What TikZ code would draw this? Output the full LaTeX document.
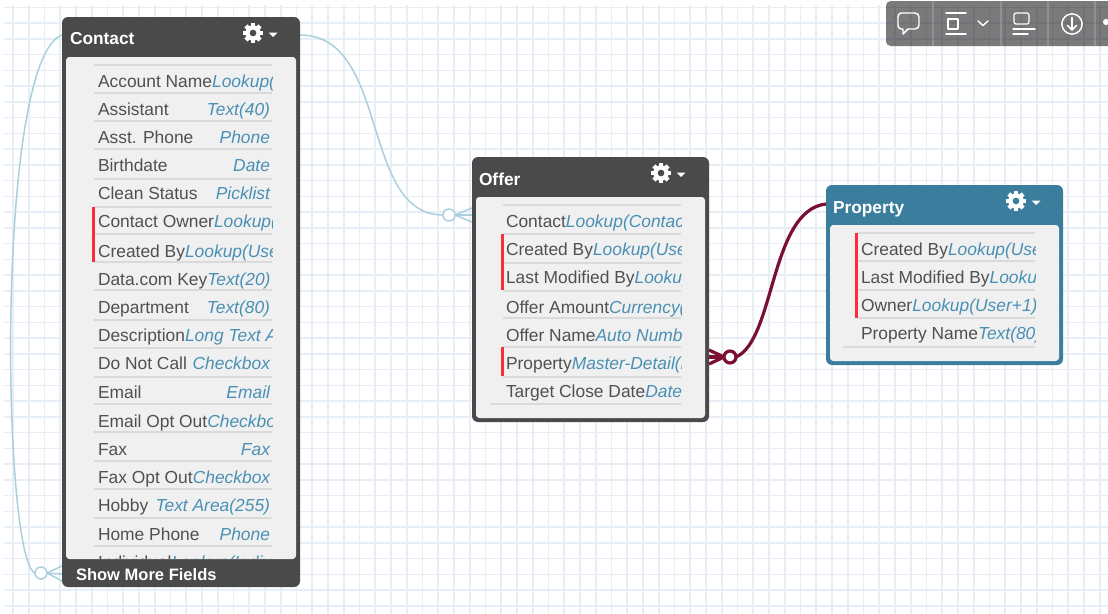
\documentclass[tikz,border=0pt]{standalone}
\usepackage{fontspec}
\setmainfont{Liberation Sans}
\definecolor{gridc}{HTML}{E8EEF5}
\definecolor{darkhdr}{HTML}{4A4A4A}
\definecolor{bluehdr}{HTML}{3A7D9C}
\definecolor{bodyc}{HTML}{F0F0F0}
\definecolor{labelc}{HTML}{505050}
\definecolor{typec}{HTML}{4A90B4}
\definecolor{rulec}{HTML}{DADADA}
\definecolor{redbar}{HTML}{FA2D3A}
\definecolor{lightlink}{HTML}{A9CFDC}
\definecolor{darklink}{HTML}{7A0F33}
\tikzset{
  shell/.style={inner sep=0pt,outer sep=0pt,rounded corners=4.5pt},
  flabel/.style={inner sep=0pt,outer sep=0pt,text=labelc,font=\fontsize{13.05}{14}\selectfont},
  ftype/.style={inner sep=0pt,outer sep=0pt,text=typec,font=\fontsize{13.05}{14}\selectfont\itshape},
  htitle/.style={inner sep=0pt,outer sep=0pt,text=white,anchor=base west,font=\fontsize{13}{14}\selectfont\bfseries},
  lightline/.style={draw=lightlink,line width=1.1pt},
  darkline/.style={draw=darklink,line width=2.4pt},
  hollow/.style={circle,fill=white,inner sep=0pt,outer sep=0pt,minimum size=9pt},
  tool/.style={draw=white,line width=1.1pt,line cap=round,line join=round},
}
% id x1 y1 x2 y2 header-bottom colour body-bottom
\newcommand{\entitybox}[8]{%
  \node[shell,fill=#7,minimum width={(#4-#2)*0.75pt},minimum height={(#5-#3)*0.75pt}] (#1) at ({(#2+#4)/2},{(#3+#5)/2}) {};
  \node[shell,rounded corners=2.5pt,fill=bodyc,minimum width={(#4-#2-8)*0.75pt},minimum height={(#8-#6)*0.75pt}] (#1body) at ({(#2+#4)/2},{(#6+#8)/2}) {};
}
% x y background
\newcommand{\gearicon}[3]{%
  \foreach \a in {0,45,...,315}{\fill[white,rotate around={\a:(#1,#2)}] (#1-2.2,#2-10) rectangle (#1+2.2,#2);}
  \fill[white] (#1,#2) circle (5.8pt);
  \fill[#3] (#1,#2) circle (2.5pt);
  \fill[white] (#1+15.5,#2-0.5) -- (#1+24.5,#2-0.5) -- (#1+20,#2+4) -- cycle;
}
% id x clip-right y label type  : type directly follows the label
\newcommand{\fieldflow}[6]{%
  \begin{scope}
  \clip (#2-3,#4-14) rectangle (#3,#4+14);
  \node[flabel,anchor=base west] (#1a) at (#2,#4+6.2) {#5};
  \node[ftype,anchor=base west] (#1b) at (#1a.base east) {#6};
  \end{scope}
}
% id x clip-right y label type  : type set flush right
\newcommand{\fieldright}[6]{%
  \begin{scope}
  \clip (#2-3,#4-14) rectangle (#3,#4+14);
  \node[flabel,anchor=base west] (#1a) at (#2,#4+6.2) {#5};
  \node[ftype,anchor=base east] (#1b) at (#3-2,#4+6.2) {#6};
  \end{scope}
}
\begin{document}
\begin{tikzpicture}[x=0.75pt,y=-0.75pt]
\useasboundingbox (0,0) rectangle (1108,614);
\fill[white] (0,0) rectangle (1108,614);
% grid
\foreach \k in {0,...,70}{\draw[gridc,line width=1.2pt] ({13+15.75*\k},5) -- ({13+15.75*\k},614);}
\foreach \k in {0,...,38}{\draw[gridc,line width=1.2pt] (4,{7.3+15.75*\k}) -- (1108,{7.3+15.75*\k});}

% named ends of the connectors
\coordinate (cright) at (300,35);
\coordinate (cleft) at (62,35);
\coordinate (cf1) at (62,566);
\coordinate (cf2) at (62,574);
\coordinate (cf3) at (62,581);
\coordinate (of1) at (472,208);
\coordinate (of2) at (472,215);
\coordinate (of3) at (472,222);
\coordinate (mf1) at (709,350);
\coordinate (mf2) at (709,357);
\coordinate (mf3) at (709,364);
\coordinate (pleft) at (826,204);
\node[hollow,draw=lightlink,line width=1.1pt] (selfend) at (41,573) {};
\node[hollow,draw=lightlink,line width=1.1pt] (offerend) at (449,215) {};
\node[hollow,draw=darklink,line width=2.4pt] (propend) at (730,357) {};

% connectors
\draw[lightline] (cright) .. controls (390,35) and (360,215) .. (offerend.west);
\draw[lightline] (cleft) .. controls (-5,60) and (2,560) .. (selfend.west);
\foreach \e in {cf1,cf2,cf3}{\draw[lightline] (selfend.east) -- (\e);}
\foreach \e in {of1,of2,of3}{\draw[lightline] (offerend.east) -- (\e);}
\draw[darkline] (pleft) .. controls (770,210) and (775,340) .. (propend.east);
\foreach \e in {mf1,mf2,mf3}{\draw[darkline] (propend.west) -- (\e);}

% ---------- Contact
\entitybox{contact}{62}{17}{300}{587}{57}{darkhdr}{559}
\node[htitle] (contacttitle) at (70,45) {Contact};
\gearicon{253}{33}{darkhdr}
\node[inner sep=0pt,outer sep=0pt,text=white,anchor=base west,font=\fontsize{12.4}{14}\selectfont\bfseries] (contactmore) at (76,580) {Show More Fields};
\foreach \y in {65,93,121,149,179,207,234,262,290,320,348,377,404,432,461,489,518,546}{\draw[rulec,line width=.8pt] (94,\y) -- (272,\y);}
\fill[redbar] (92,207) rectangle (95,262);
\fieldflow{c1}{98}{272}{81}{Account Name}{Lookup(Account)}
\fieldright{c2}{98}{272}{109}{Assistant}{Text(40)}
\fieldright{c3}{98}{272}{137}{Asst. Phone}{Phone}
\fieldright{c4}{98}{272}{165}{Birthdate}{Date}
\fieldright{c5}{98}{272}{193}{Clean Status}{Picklist}
\fieldflow{c6}{98}{272}{221}{Contact Owner}{Lookup(User)}
\fieldflow{c7}{98}{272}{251}{Created By}{Lookup(User)}
\fieldflow{c8}{98}{272}{279}{Data.com Key}{Text(20)}
\fieldright{c9}{98}{272}{307}{Department}{Text(80)}
\fieldflow{c10}{98}{272}{335}{Description}{Long Text Area}
\fieldright{c11}{98}{272}{363}{Do Not Call}{Checkbox}
\fieldright{c12}{98}{272}{392}{Email}{Email}
\fieldflow{c13}{98}{272}{421}{Email Opt Out}{Checkbox}
\fieldright{c14}{98}{272}{449}{Fax}{Fax}
\fieldflow{c15}{98}{272}{477}{Fax Opt Out}{Checkbox}
\fieldright{c16}{98}{272}{505}{Hobby}{Text Area(255)}
\fieldright{c17}{98}{272}{534}{Home Phone}{Phone}
\begin{scope}
\clip (90,546) rectangle (272,558.5);
\node[flabel,anchor=base west] (c18a) at (98,568.2) {Individual};
\node[ftype,anchor=base west] (c18b) at (c18a.base east) {Lookup(Indiv};
\end{scope}

% ---------- Offer
\entitybox{offer}{472}{157}{709}{422}{197}{darkhdr}{418}
\node[htitle] (offertitle) at (479,185) {Offer};
\gearicon{661}{173}{darkhdr}
\foreach \y in {205,234,263,291,318,347,377}{\draw[rulec,line width=.8pt] (503,\y) -- (681,\y);}
\draw[rulec,line width=.8pt] (490,404) -- (681,404);
\fill[redbar] (501,234) rectangle (504,290);
\fill[redbar] (501,347) rectangle (504,376);
\fieldflow{o1}{506}{681}{221}{Contact}{Lookup(Contact)}
\fieldflow{o2}{506}{681}{249}{Created By}{Lookup(User)}
\fieldflow{o3}{506}{681}{277}{Last Modified By}{Lookup(User)}
\fieldflow{o4}{506}{681}{307}{Offer Amount}{Currency(16,2)}
\fieldflow{o5}{506}{681}{335}{Offer Name}{Auto Number}
\fieldflow{o6}{506}{681}{363}{Property}{Master-Detail(Property)}
\fieldflow{o7}{506}{681}{391}{Target Close Date}{Date}

% ---------- Property
\entitybox{property}{826}{185}{1063}{365}{225}{bluehdr}{361}
\node[htitle] (propertytitle) at (833,213) {Property};
\gearicon{1016}{201}{bluehdr}
\foreach \y in {233,261,290,318}{\draw[rulec,line width=.8pt] (857,\y) -- (1035,\y);}
\draw[rulec,line width=.8pt] (843,347) -- (1035,347);
\fill[redbar] (855,233) rectangle (858,318);
\fieldflow{p1}{861}{1035}{249}{Created By}{Lookup(User)}
\fieldflow{p2}{861}{1035}{277}{Last Modified By}{Lookup(User)}
\fieldflow{p3}{861}{1035}{305}{Owner}{Lookup(User+1)}
\fieldflow{p4}{861}{1035}{333}{Property Name}{Text(80)}

% ---------- viewer toolbar
\fill[black,fill opacity=.52,rounded corners=3.5pt] (886,1) rectangle (1118,46);
\foreach \x in {933,1001,1048,1095}{\draw[white,opacity=.18,line width=.8pt] (\x,1) -- (\x,46);}
\draw[tool] (901,13) -- (915,13) to[out=0,in=90] (919,17) -- (919,25) to[out=-90,in=0] (915,29) -- (908,29) -- (903,34) -- (903,29) -- (901,29) to[out=180,in=-90] (898,25) -- (898,17) to[out=90,in=180] (901,13) -- cycle;
\draw[tool] (946,13) -- (966,13);
\draw[tool] (946,34) -- (966,34);
\draw[tool,line width=.9pt] (948,19) rectangle (958,29);
\draw[tool] (978,21) -- (983,25.5) -- (988,21);
\draw[tool,line width=.9pt,rounded corners=1.5pt] (1014,13) rectangle (1029,24);
\draw[tool] (1013,29) -- (1035,29);
\draw[tool] (1013,34) -- (1028,34);
\draw[tool] (1072,24) circle (7.6pt);
\draw[tool] (1072,17.5) -- (1072,30);
\draw[tool] (1067.5,25.5) -- (1072,30) -- (1076.5,25.5);
\fill[white] (1106,22) circle (2.3pt);
\end{tikzpicture}
\end{document}
